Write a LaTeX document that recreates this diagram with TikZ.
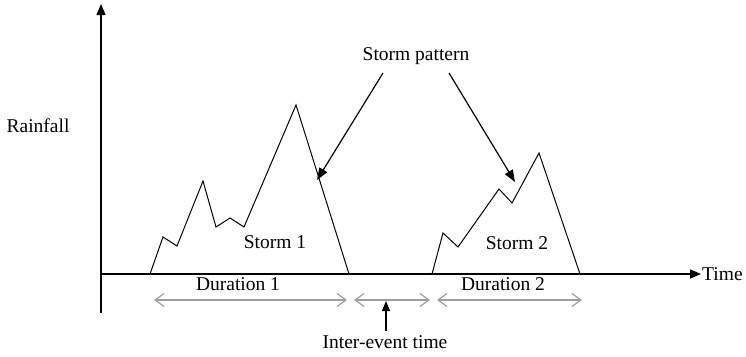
\documentclass[tikz,border=0pt]{standalone}
\usepackage{fontspec}
\setmainfont{Liberation Serif}
\usetikzlibrary{arrows.meta}
\begin{document}
\begin{tikzpicture}[x=1pt,y=-1pt,
  lbl/.style={inner sep=0pt,font=\fontsize{19.5}{22}\selectfont},
  axis/.style={line width=1.5pt,-{Triangle[length=11pt,width=9pt]}},
  storm/.style={line width=1pt,line join=miter},
  pointer/.style={line width=1.2pt,-{Triangle[length=12pt,width=9pt]}},
  span/.style={line width=1.2pt,draw=black!38,{Straight Barb[length=9pt,width=13pt]}-{Straight Barb[length=9pt,width=13pt]}}]
\useasboundingbox (0,0) rectangle (746,356);
% axes
\coordinate (O) at (101,274);
\coordinate (ybot) at (101,313);
\coordinate (ytop) at (101,4);
\coordinate (xend) at (701,274);
\draw[axis] (ybot) -- (ytop);
\draw[axis,line width=1.3pt] (O) -- (xend);
\node[lbl,anchor=west] (time) at (702,274) {Time};
\node[lbl] (rain) at (38,126) {Rainfall};
% storm 1
\draw[storm] (150,274) -- (163,237) -- (177,246) -- (203,181) -- (216,227) -- (230,218) -- (244,227) -- (296,105) coordinate (p1) -- (349,274);
% storm 2
\draw[storm] (432,274) -- (443,233) -- (458,247) -- (499,189) -- (512,203) -- (539,153) coordinate (p2) -- (580,274);
\node[lbl] (s1) at (275,242) {Storm 1};
\node[lbl] (s2) at (517,243) {Storm 2};
\node[lbl] (d1) at (238,284) {Duration 1};
\node[lbl] (d2) at (503,284) {Duration 2};
% storm pattern
\node[lbl] (sp) at (416,56) {Storm pattern};
\coordinate (a1s) at (383,73);
\coordinate (a1e) at (317,180);
\coordinate (a2s) at (449,73);
\coordinate (a2e) at (515,182);
\draw[pointer] (a1s) -- (a1e);
\draw[pointer] (a2s) -- (a2e);
% spans
\coordinate (d1a) at (154,300);
\coordinate (d1b) at (347,300);
\coordinate (iea) at (354,300);
\coordinate (ieb) at (430,300);
\coordinate (d2a) at (437,300);
\coordinate (d2b) at (582,300);
\draw[span] (d1a) -- (d1b);
\draw[span] (iea) -- (ieb);
\draw[span] (d2a) -- (d2b);
% inter-event
\node[lbl] (ie) at (385,342) {Inter-event time};
\coordinate (iet) at (386,301);
\draw[line width=1.2pt,-{Triangle[length=10pt,width=8pt]}] (386,331) -- (iet);
\end{tikzpicture}
\end{document}
